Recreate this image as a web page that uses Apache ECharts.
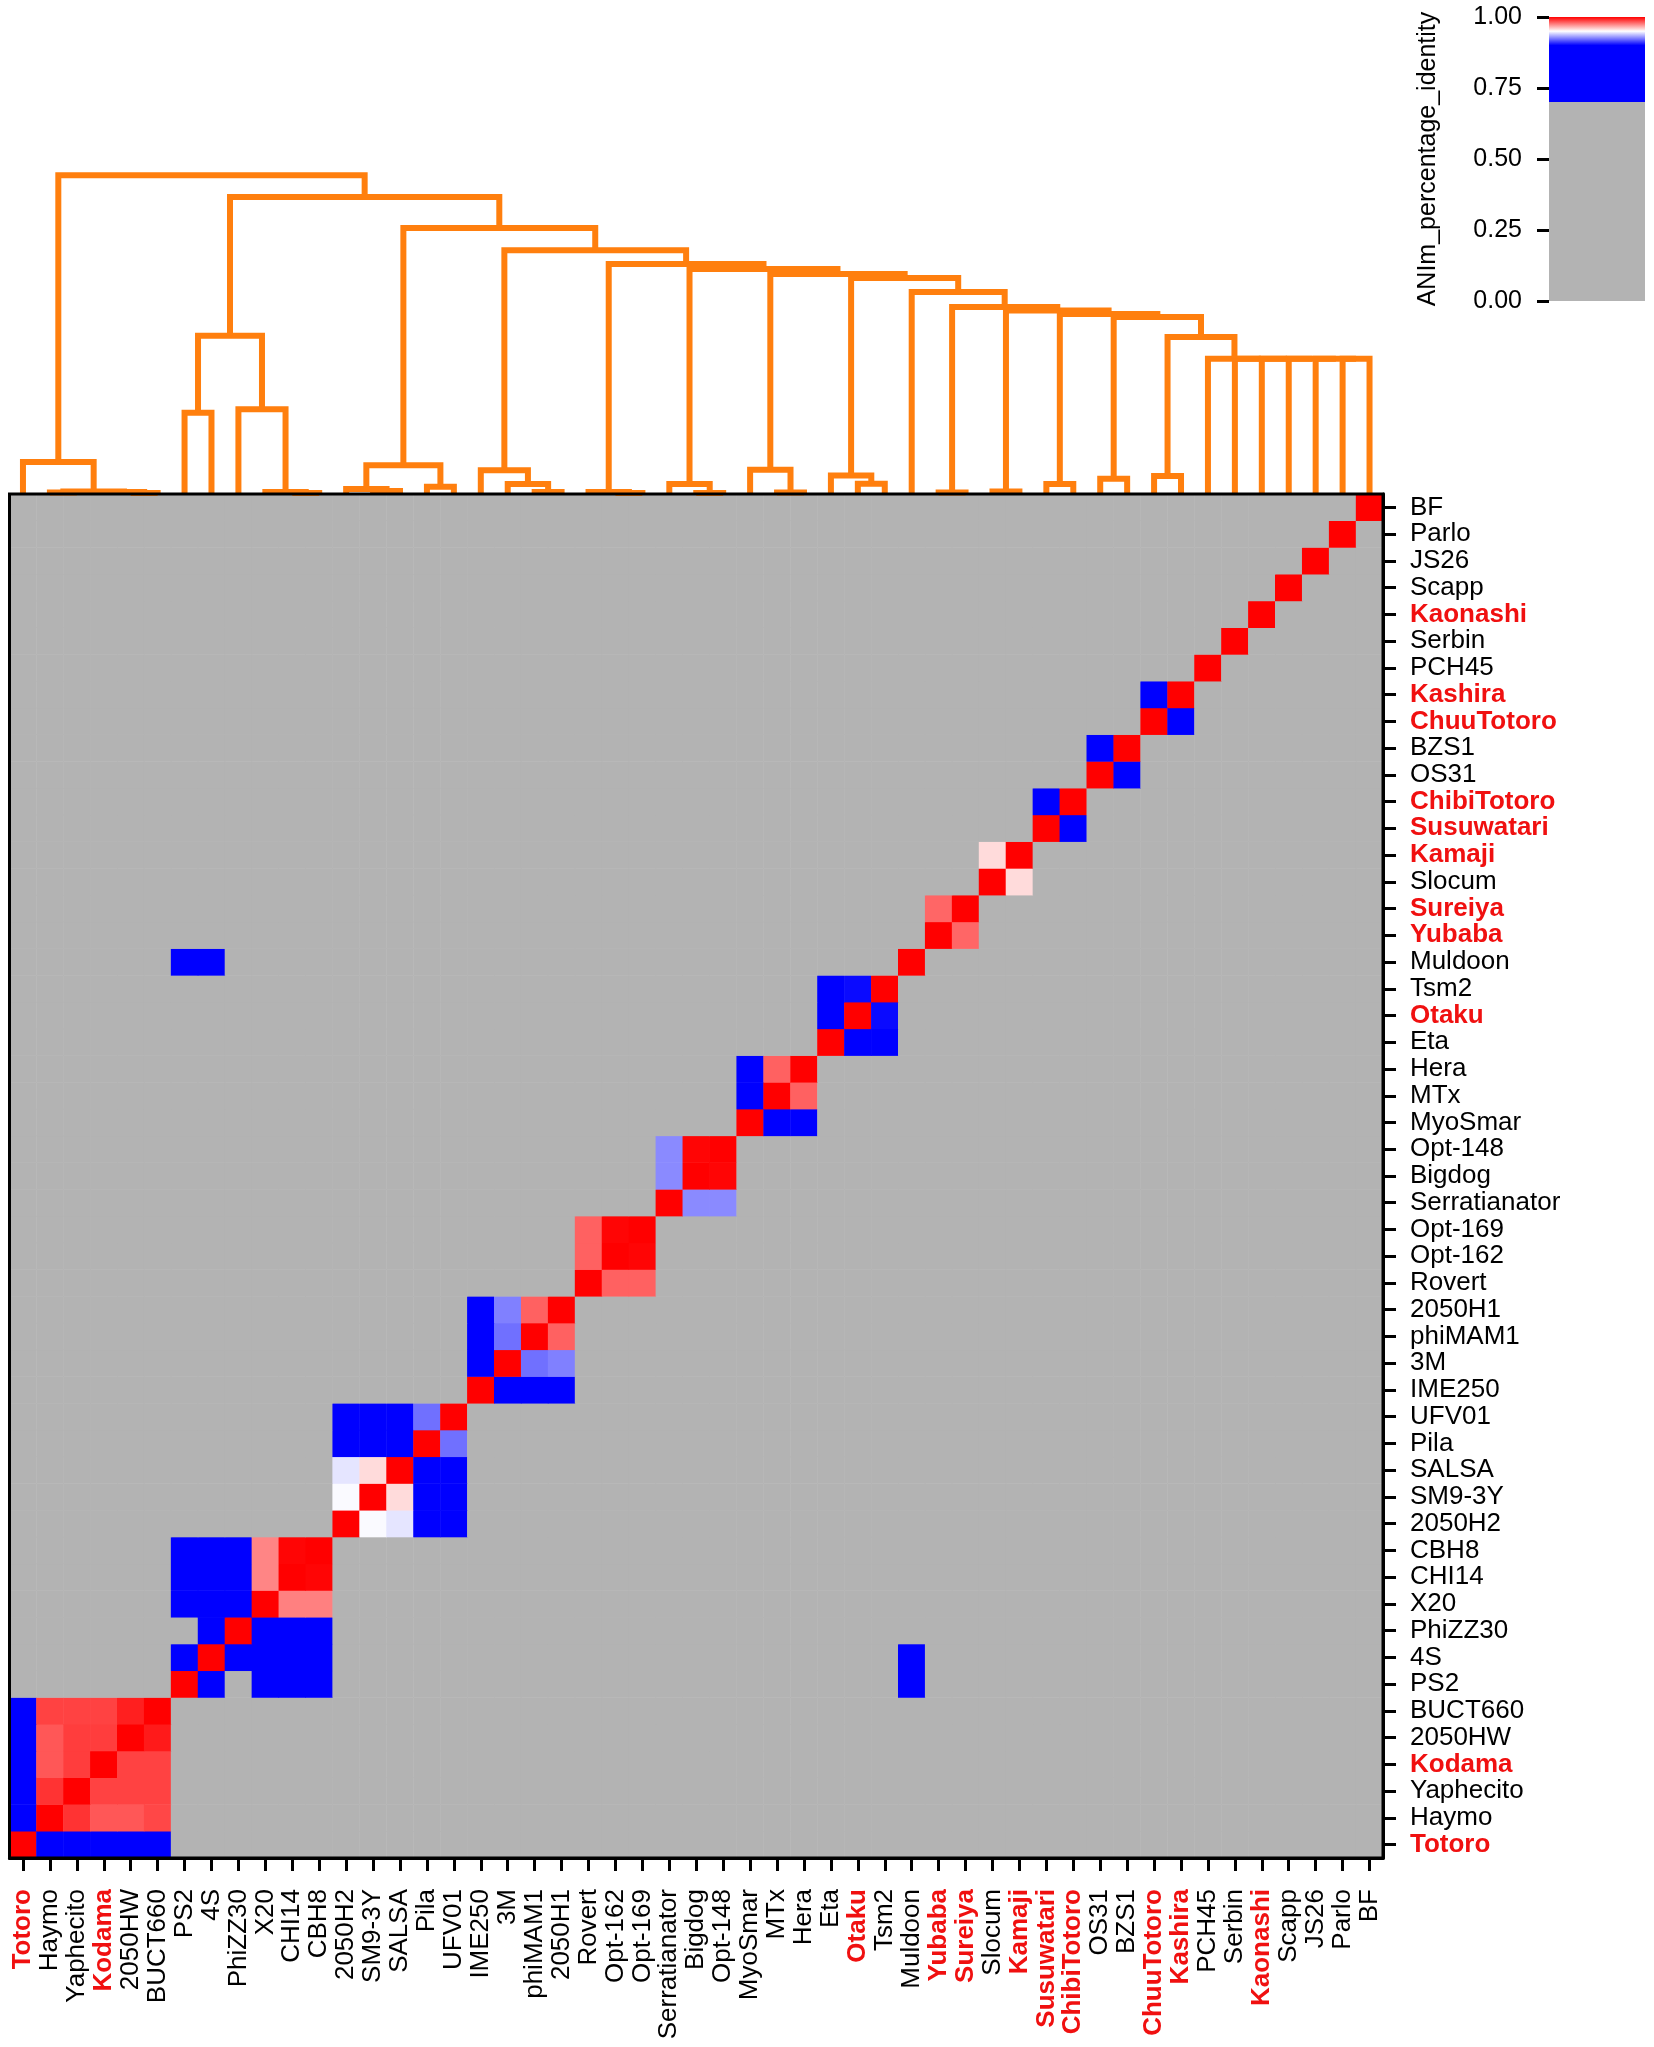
<!DOCTYPE html>
<html>
<head>
<meta charset="utf-8">
<title>ANIm percentage identity</title>
<script src="https://cdn.jsdelivr.net/npm/echarts@6.0.0/dist/echarts.min.js"></script>
<style>
  html, body { margin: 0; padding: 0; background: #fff; }
  #chart { width: 1654px; height: 2047px; }
</style>
</head>
<body>
<div id="chart"></div>
<script>
// leaf order of the dendrogram, also the order of heatmap columns (left->right) and rows (bottom->top)
const genomes = [
  'Totoro', 'Haymo', 'Yaphecito', 'Kodama', '2050HW', 'BUCT660',
  'PS2', '4S', 'PhiZZ30', 'X20', 'CHI14', 'CBH8',
  '2050H2', 'SM9-3Y', 'SALSA', 'Pila', 'UFV01',
  'IME250', '3M', 'phiMAM1', '2050H1',
  'Rovert', 'Opt-162', 'Opt-169',
  'Serratianator', 'Bigdog', 'Opt-148',
  'MyoSmar', 'MTx', 'Hera',
  'Eta', 'Otaku', 'Tsm2', 'Muldoon',
  'Yubaba', 'Sureiya', 'Slocum', 'Kamaji', 'Susuwatari', 'ChibiTotoro',
  'OS31', 'BZS1', 'ChuuTotoro', 'Kashira',
  'PCH45', 'Serbin', 'Kaonashi', 'Scapp', 'JS26', 'Parlo', 'BF'
];

// labels drawn in bold red
const highlighted = ['Totoro', 'Kodama', 'Otaku', 'Yubaba', 'Sureiya', 'Kamaji',
  'Susuwatari', 'ChibiTotoro', 'ChuuTotoro', 'Kashira', 'Kaonashi'];

// ANIm identity inside each cluster (row genome x column genome), 0 = no alignment
const clusterTotoro = [
  [1.000, 0.862, 0.862, 0.862, 0.862, 0.862],
  [0.862, 1.000, 0.990, 0.983, 0.983, 0.986],
  [0.862, 0.990, 1.000, 0.987, 0.987, 0.987],
  [0.862, 0.983, 0.988, 1.000, 0.987, 0.987],
  [0.862, 0.983, 0.988, 0.988, 1.000, 0.995],
  [0.862, 0.987, 0.987, 0.987, 0.994, 1.000]
];
const clusterPS2 = [
  [1.000, 0.846, 0.000, 0.811, 0.811, 0.811],
  [0.846, 1.000, 0.829, 0.815, 0.815, 0.815],
  [0.000, 0.829, 1.000, 0.822, 0.822, 0.822],
  [0.811, 0.815, 0.822, 1.000, 0.975, 0.975],
  [0.811, 0.815, 0.822, 0.974, 1.000, 0.999],
  [0.811, 0.815, 0.822, 0.974, 0.999, 1.000]
];
const cluster2050H2 = [
  [1.000, 0.949, 0.945, 0.842, 0.842],
  [0.949, 1.000, 0.957, 0.842, 0.842],
  [0.945, 0.957, 1.000, 0.842, 0.842],
  [0.842, 0.842, 0.842, 1.000, 0.922],
  [0.842, 0.842, 0.842, 0.922, 1.000]
];
const clusterIME250 = [
  [1.000, 0.851, 0.851, 0.851],
  [0.851, 1.000, 0.922, 0.925],
  [0.851, 0.922, 1.000, 0.981],
  [0.851, 0.925, 0.981, 1.000]
];
const clusterRovert = [
  [1.000, 0.981, 0.981],
  [0.981, 1.000, 0.999],
  [0.981, 0.999, 1.000]
];
const clusterSerratianator = [
  [1.000, 0.927, 0.927],
  [0.927, 1.000, 0.999],
  [0.927, 0.999, 1.000]
];
const clusterMyoSmar = [
  [1.000, 0.862, 0.862],
  [0.862, 1.000, 0.981],
  [0.862, 0.981, 1.000]
];
const clusterEta = [
  [1.000, 0.871, 0.871],
  [0.871, 1.000, 0.902],
  [0.871, 0.902, 1.000]
];
const clusterYubaba = [[1.000, 0.980], [0.980, 1.000]];
const clusterSlocum = [[1.000, 0.957], [0.957, 1.000]];
const clusterSusuwatari = [[1.000, 0.880], [0.880, 1.000]];
const clusterOS31 = [[1.000, 0.880], [0.880, 1.000]];
const clusterChuuTotoro = [[1.000, 0.880], [0.880, 1.000]];

// genomes that only align with themselves
const singletons = ['Muldoon', 'PCH45', 'Serbin', 'Kaonashi', 'Scapp', 'JS26', 'Parlo', 'BF'];

// hits outside the diagonal blocks [row, column, identity]
const crossPairs = [
  ['Muldoon', 'PS2', 0.83], ['Muldoon', '4S', 0.83],
  ['PS2', 'Muldoon', 0.83], ['4S', 'Muldoon', 0.83]
];

// average-linkage tree: [id, left, right, merge height]
const linkage = [
  ['c1', 'Haymo', 'Yaphecito', 0.015],
  ['c2', '2050HW', 'BUCT660', 0.01],
  ['c3', 'Kodama', 'c2', 0.02],
  ['c4', 'c1', 'c3', 0.025],
  ['c5', 'Totoro', 'c4', 0.32],
  ['c6', 'PS2', '4S', 0.812],
  ['c7', 'CHI14', 'CBH8', 0.01],
  ['c8', 'X20', 'c7', 0.02],
  ['c9', 'PhiZZ30', 'c8', 0.848],
  ['c10', 'c6', 'c9', 1.582],
  ['c11', 'SM9-3Y', 'SALSA', 0.03],
  ['c12', '2050H2', 'c11', 0.05],
  ['c13', 'Pila', 'UFV01', 0.073],
  ['c14', 'c12', 'c13', 0.287],
  ['c15', 'phiMAM1', '2050H1', 0.02],
  ['c16', '3M', 'c15', 0.10],
  ['c17', 'IME250', 'c16', 0.237],
  ['c18', 'Opt-162', 'Opt-169', 0.01],
  ['c19', 'Rovert', 'c18', 0.02],
  ['c20', 'Bigdog', 'Opt-148', 0.01],
  ['c21', 'Serratianator', 'c20', 0.10],
  ['c22', 'MTx', 'Hera', 0.015],
  ['c23', 'MyoSmar', 'c22', 0.243],
  ['c24', 'Otaku', 'Tsm2', 0.103],
  ['c25', 'Eta', 'c24', 0.185],
  ['c26', 'Yubaba', 'Sureiya', 0.015],
  ['c27', 'Slocum', 'Kamaji', 0.025],
  ['c28', 'Susuwatari', 'ChibiTotoro', 0.10],
  ['c29', 'OS31', 'BZS1', 0.152],
  ['c30', 'ChuuTotoro', 'Kashira', 0.18],
  ['c31', 'Parlo', 'BF', 1.353],
  ['c32', 'JS26', 'c31', 1.353],
  ['c33', 'Scapp', 'c32', 1.353],
  ['c34', 'Kaonashi', 'c33', 1.353],
  ['c35', 'Serbin', 'c34', 1.353],
  ['c36', 'PCH45', 'c35', 1.353],
  ['c37', 'c30', 'c36', 1.57],
  ['c38', 'c29', 'c37', 1.77],
  ['c39', 'c28', 'c38', 1.80],
  ['c40', 'c27', 'c39', 1.835],
  ['c41', 'c26', 'c40', 1.87],
  ['c42', 'Muldoon', 'c41', 2.02],
  ['c43', 'c25', 'c42', 2.16],
  ['c44', 'c23', 'c43', 2.20],
  ['c45', 'c21', 'c44', 2.25],
  ['c46', 'c19', 'c45', 2.30],
  ['c47', 'c17', 'c46', 2.437],
  ['c48', 'c14', 'c47', 2.66],
  ['c49', 'c10', 'c48', 2.97],
  ['c50', 'c5', 'c49', 3.187]
];

const colorbarTicks = [0, 0.25, 0.5, 0.75, 1];

// spbnd_BuRd colour map: grey below 0.7, blue to 0.9, white at 0.95, red at 1.0
const grey = '#b3b3b3';
const cmapStops = [[0, grey], [0.7, grey], [0.7, '#0000ff'], [0.9, '#0000ff'], [0.95, '#ffffff'], [1, '#ff0000']];
// same map sampled every 0.05 for the visualMap (values < 0.7 are out of range -> grey)
const cmapColors = [
  grey, grey, grey, grey, grey, grey, grey, grey, grey, grey, grey, grey, grey, grey,
  '#0000ff', '#0000ff', '#0000ff', '#0000ff', '#0000ff', '#ffffff', '#ff0000'
];

// ---- build the matrix
const idx = {};
genomes.forEach((g, i) => { idx[g] = i; });
const NO_ALIGNMENT = 0;
const matrix = genomes.map(() => genomes.map(() => NO_ALIGNMENT));
const blocks = [
  ['Totoro', clusterTotoro], ['PS2', clusterPS2], ['2050H2', cluster2050H2],
  ['IME250', clusterIME250], ['Rovert', clusterRovert], ['Serratianator', clusterSerratianator],
  ['MyoSmar', clusterMyoSmar], ['Eta', clusterEta], ['Yubaba', clusterYubaba],
  ['Slocum', clusterSlocum], ['Susuwatari', clusterSusuwatari], ['OS31', clusterOS31],
  ['ChuuTotoro', clusterChuuTotoro]
];
blocks.forEach(([first, m]) => {
  const s = idx[first];
  m.forEach((row, r) => row.forEach((v, c) => { matrix[s + r][s + c] = v; }));
});
singletons.forEach(g => { matrix[idx[g]][idx[g]] = 1; });
crossPairs.forEach(([a, b, v]) => { matrix[idx[a]][idx[b]] = v; });

const heatData = [];
matrix.forEach((row, r) => row.forEach((v, c) => heatData.push([c, r, v])));

// ---- dendrogram layout (scipy style: parent sits between its children)
function layoutTree(links) {
  const node = {};
  genomes.forEach((g, i) => { node[g] = { x: i, h: 0 }; });
  return links.map(([id, a, b, h]) => {
    const l = node[a], r = node[b];
    node[id] = { x: (l.x + r.x) / 2, h: h };
    return [l.x, l.h, r.x, r.h, h];
  });
}
const treeData = layoutTree(linkage);

const labelFont = 'Liberation Sans, Arial, sans-serif';
const categoryData = genomes.map(g => highlighted.indexOf(g) >= 0
  ? { value: g, textStyle: { color: '#f01010', fontWeight: 'bold' } }
  : g);

const chart = echarts.init(document.getElementById('chart'), null, { renderer: 'canvas' });

const option = {
  animation: false,
  backgroundColor: '#fff',
  textStyle: { fontFamily: labelFont },
  grid: [
    { left: 9.5, top: 494, width: 1373.5, height: 1364, show: true, z: 10,
      borderColor: '#000', borderWidth: 3, backgroundColor: 'transparent' },
    { left: 9.5, top: 141, width: 1373.5, height: 353 },
    { left: 1549, top: 17, width: 96, height: 284 }
  ],
  xAxis: [
    {
      gridIndex: 0, type: 'category', data: categoryData, position: 'bottom',
      axisLine: { show: true, lineStyle: { color: '#000', width: 3 } },
      axisTick: { show: true, alignWithLabel: true, length: 13, lineStyle: { color: '#000', width: 3 } },
      axisLabel: { rotate: 90, interval: 0, margin: 31, fontSize: 26, color: '#000', fontFamily: labelFont },
      splitLine: { show: false }
    },
    { gridIndex: 1, type: 'value', min: -0.5, max: genomes.length - 0.5, show: false },
    { gridIndex: 2, type: 'value', min: 0, max: 1, show: false }
  ],
  yAxis: [
    {
      gridIndex: 0, type: 'category', data: categoryData, position: 'right',
      axisLine: { show: true, lineStyle: { color: '#000', width: 3 } },
      axisTick: { show: true, alignWithLabel: true, length: 13, lineStyle: { color: '#000', width: 3 } },
      axisLabel: { interval: 0, margin: 27, fontSize: 26, color: '#000', fontFamily: labelFont },
      splitLine: { show: false }
    },
    { gridIndex: 1, type: 'value', min: 0, max: 3.53, show: false },
    {
      gridIndex: 2, type: 'value', min: 0, max: 1, interval: 0.25, position: 'left',
      axisLine: { show: false },
      axisTick: { show: true, length: 12, lineStyle: { color: '#000', width: 3 } },
      axisLabel: { margin: 27, fontSize: 25, color: '#000', fontFamily: labelFont,
        formatter: v => colorbarTicks.indexOf(v) >= 0 ? v.toFixed(2) : '' },
      splitLine: { show: false }
    }
  ],
  visualMap: {
    type: 'continuous', show: false, seriesIndex: 0, dimension: 2,
    min: 0, max: 1, range: [0.7, 1],
    inRange: { color: cmapColors },
    outOfRange: { color: grey }
  },
  graphic: [{
    type: 'text', x: 1428, y: 159, rotation: Math.PI / 2,
    style: { text: 'ANIm_percentage_identity', fontSize: 25, fontFamily: labelFont,
      fill: '#000', textAlign: 'center', textVerticalAlign: 'middle' }
  }],
  series: [
    {
      type: 'heatmap', xAxisIndex: 0, yAxisIndex: 0, data: heatData,
      progressive: 0, emphasis: { disabled: true }, itemStyle: { borderWidth: 0 }
    },
    {
      type: 'custom', xAxisIndex: 1, yAxisIndex: 1, data: treeData, clip: false,
      silent: true,
      renderItem: (params, api) => {
        const xl = api.value(0), hl = api.value(1), xr = api.value(2), hr = api.value(3), h = api.value(4);
        return {
          type: 'polyline',
          shape: { points: [api.coord([xl, hl]), api.coord([xl, h]), api.coord([xr, h]), api.coord([xr, hr])] },
          style: { stroke: '#ff7f0e', lineWidth: 6, fill: null, lineJoin: 'miter' }
        };
      }
    },
    {
      type: 'custom', xAxisIndex: 2, yAxisIndex: 2, data: [[0, 0]], silent: true,
      renderItem: (params, api) => {
        const p0 = api.coord([0, 1]);
        const p1 = api.coord([1, 0]);
        const stops = cmapStops.slice().reverse().map(([v, c]) => ({ offset: 1 - v, color: c }));
        return {
          type: 'rect',
          shape: { x: p0[0], y: p0[1], width: p1[0] - p0[0], height: p1[1] - p0[1] },
          style: { fill: new echarts.graphic.LinearGradient(0, 0, 0, 1, stops) }
        };
      }
    }
  ]
};

chart.setOption(option);
</script>
</body>
</html>
